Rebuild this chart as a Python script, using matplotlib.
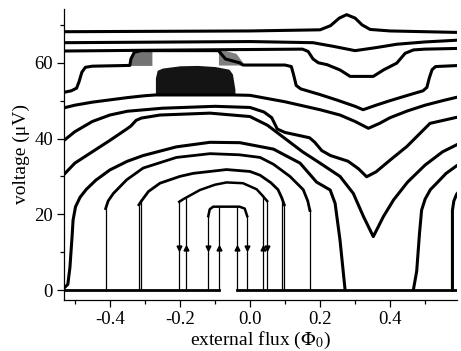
import numpy as np
import matplotlib
matplotlib.use("Agg")
import matplotlib.pyplot as plt

plt.rcParams['font.family'] = ['Liberation Serif', 'DejaVu Serif']
plt.rcParams['mathtext.fontset'] = 'stix'
plt.rcParams['axes.unicode_minus'] = False

# resistive branches (always above zero), top to bottom
a_x = [-0.531, 0.0, 0.2, 0.23, 0.255, 0.276, 0.3, 0.32, 0.343, 0.4, 0.6]
a_y = [68.2, 68.4, 68.7, 69.8, 71.8, 72.7, 71.8, 70.0, 68.8, 68.4, 68.0]

b_x = [-0.531, 0.0, 0.18, 0.24, 0.30, 0.36, 0.42, 0.5, 0.6]
b_y = [65.3, 65.6, 65.3, 64.3, 63.2, 64.0, 64.9, 65.5, 66.0]

c_x = [-0.531, -0.3, 0.0, 0.15, 0.166, 0.18, 0.195, 0.22, 0.257, 0.286, 0.352,
       0.381, 0.419, 0.443, 0.467, 0.5, 0.6]
c_y = [63.1, 63.3, 63.5, 63.6, 63.0, 61.0, 60.0, 59.5, 58.1, 56.4, 56.4,
       58.1, 59.9, 62.5, 63.4, 63.6, 63.8]

d_x = [-0.531, -0.51, -0.495, -0.488, -0.48, -0.47, -0.45, -0.343, -0.34, -0.33,
       -0.31, -0.09, -0.07, -0.03, -0.02, 0.1, 0.118, 0.124, 0.132, 0.145, 0.2,
       0.25, 0.3, 0.323, 0.36, 0.4, 0.45, 0.494, 0.505, 0.512, 0.52, 0.53, 0.6]
d_y = [52.2, 52.6, 53.3, 55.0, 57.5, 58.8, 59.1, 59.3, 61.0, 62.8,
       63.2, 63.2, 61.0, 60.0, 59.4, 59.4, 59.0, 57.0, 54.0, 53.1, 51.6,
       50.1, 48.5, 47.6, 48.8, 50.0, 51.4, 52.6, 53.5, 56.0, 58.2, 59.0, 59.3]

e_x = [-0.531, -0.5, -0.45, -0.4, -0.35, -0.3, -0.27, -0.045, 0.0, 0.1, 0.2,
       0.257, 0.3, 0.338, 0.37, 0.4, 0.45, 0.5, 0.55, 0.6]
e_y = [48.1, 48.8, 49.6, 50.2, 50.8, 51.3, 51.5, 51.5, 51.4, 49.7, 47.6,
       46.2, 44.5, 42.7, 44.0, 45.5, 47.3, 48.8, 50.0, 51.1]

f_x = [-0.531, -0.5, -0.45, -0.4, -0.35, -0.25, -0.1, 0.0, 0.04, 0.062, 0.078,
       0.1, 0.17, 0.185, 0.205, 0.23, 0.28, 0.31, 0.333, 0.36, 0.4, 0.448,
       0.514, 0.6]
f_y = [39.5, 41.8, 44.5, 46.2, 47.2, 48.0, 48.5, 48.2, 47.0, 45.5, 42.5,
       41.6, 40.2, 39.0, 36.8, 35.5, 34.0, 32.0, 29.9, 31.2, 34.3, 37.9,
       44.0, 45.8]

g_x = [-0.531, -0.5, -0.45, -0.4, -0.352, -0.34, -0.325, -0.31, -0.257, -0.114,
       0.0, 0.05, 0.1, 0.15, 0.2, 0.257, 0.295, 0.324, 0.352, 0.381, 0.41,
       0.45, 0.5, 0.55, 0.6]
g_y = [30.5, 33.5, 36.5, 39.5, 42.5, 43.3, 44.8, 45.4, 46.2, 46.7,
       45.8, 43.5, 40.0, 36.5, 33.5, 30.0, 25.5, 19.4, 14.1, 19.4, 23.8,
       28.5, 33.0, 36.5, 38.8]

# switching branches (zero-voltage state in part of the period)
dome5_x = [-0.531, -0.52, -0.514, -0.508, -0.505, -0.498, -0.485, -0.467, -0.44,
           -0.4, -0.35, -0.305, -0.21, -0.114, -0.029, 0.067, 0.143, 0.19,
           0.229, 0.243, 0.257, 0.271]
dome5_y = [0.5, 1.5, 6.0, 14.0, 18.5, 22.0, 24.5, 26.6, 29.0,
           31.7, 34.0, 35.5, 37.8, 39.0, 38.9, 37.2, 33.5, 28.5,
           26.4, 22.9, 13.2, 0.5]

dome5b_x = [0.467, 0.476, 0.484, 0.49, 0.5, 0.515, 0.533, 0.56, 0.59, 0.6]
dome5b_y = [0.3, 5.0, 15.0, 21.1, 24.0, 26.5, 28.2, 30.8, 32.8, 33.3]

dome4_x = [-0.412, -0.412, -0.405, -0.39, -0.352, -0.305, -0.21, -0.114, -0.03,
           0.029, 0.067, 0.114, 0.152, 0.165, 0.171, 0.171]
dome4_y = [0.0, 21.5, 23.5, 25.5, 29.1, 32.2, 35.0, 36.0, 35.7,
           35.0, 33.2, 30.0, 26.5, 23.5, 21.0, 0.0]

dome4b_x = [0.578, 0.578, 0.582, 0.59, 0.6]
dome4b_y = [0.0, 21.0, 23.5, 25.3, 26.4]

dome3_x = [-0.317, -0.317, -0.31, -0.29, -0.257, -0.2, -0.162, -0.067, 0.0,
           0.029, 0.06, 0.08, 0.09, 0.098, 0.098]
dome3_y = [0.0, 22.5, 23.5, 26.0, 28.2, 30.0, 30.8, 31.8, 31.3,
           30.3, 28.3, 26.5, 24.5, 22.5, 0.0]

dome2_x = [-0.202, -0.202, -0.19, -0.143, -0.1, -0.067, -0.02, 0.019, 0.033,
           0.049, 0.049]
dome2_y = [0.0, 23.3, 24.0, 26.4, 27.8, 28.4, 28.2, 26.6, 25.2, 23.5, 0.0]

dome1_x = [-0.119, -0.119, -0.115, -0.105, -0.03, -0.015, -0.008, -0.008]
dome1_y = [0.0, 19.5, 21.3, 22.0, 22.0, 21.5, 19.5, 0.0]

# second vertical of each hysteresis pair: (x, top voltage)
jump_x = [-0.311, 0.09, -0.183, 0.036, -0.088, -0.038]
jump_top = [23.5, 24.5, 24.3, 25.0, 22.0, 22.0]

arrow_down_x = [-0.202, -0.119, -0.008, 0.049]
arrow_up_x = [-0.183, -0.088, -0.038, 0.036]
arrow_y = 11

base1_x = [-0.531, -0.088]
base2_x = [-0.038, 0.6]

# switching noise bands: x, lower, upper
band1_x = [-0.343, -0.335, -0.31, -0.28]
band1_lo = [59.3, 59.3, 59.3, 59.3]
band1_hi = [60.5, 63.2, 63.2, 63.2]
band2_x = [-0.27, -0.265, -0.25, -0.2, -0.15, -0.1, -0.06, -0.05, -0.043]
band2_lo = [51.5, 51.5, 51.5, 51.5, 51.5, 51.5, 51.5, 51.5, 51.5]
band2_hi = [56.0, 58.0, 58.6, 59.2, 59.3, 59.0, 58.3, 57.0, 53.0]
band3_x = [-0.09, -0.07, -0.04, -0.02]
band3_lo = [59.4, 59.4, 59.4, 59.4]
band3_hi = [63.2, 63.2, 62.5, 60.0]

fig = plt.figure(figsize=(4.61, 3.51), dpi=100)
ax = fig.add_axes([0.1388, 0.1453, 0.8525, 0.8291])

k = 'black'
for xs, ys in [(a_x, a_y), (b_x, b_y), (c_x, c_y), (d_x, d_y), (e_x, e_y),
               (f_x, f_y), (g_x, g_y), (dome5_x, dome5_y), (dome5b_x, dome5b_y),
               (dome4b_x, dome4b_y)]:
    ax.plot(xs, ys, color=k, lw=2.2, solid_joinstyle='round')

# domes: thick tops, thin vertical switching lines
for xs, ys, lw in [(dome4_x, dome4_y, 2.0), (dome3_x, dome3_y, 2.0),
                   (dome2_x, dome2_y, 1.8), (dome1_x, dome1_y, 1.8)]:
    ax.plot(xs[1:-1], ys[1:-1], color=k, lw=lw)
    ax.plot(xs[:2], ys[:2], color=k, lw=0.9)
    ax.plot(xs[-2:], ys[-2:], color=k, lw=0.9)

ax.vlines(jump_x, 0, jump_top, color=k, lw=0.9)
ax.plot(arrow_down_x, [arrow_y] * len(arrow_down_x), 'v', color=k, ms=3.5)
ax.plot(arrow_up_x, [arrow_y] * len(arrow_up_x), '^', color=k, ms=3.5)

ax.plot(base1_x, [0, 0], color=k, lw=2.0)
ax.plot(base2_x, [0, 0], color=k, lw=2.0)

ax.fill_between(band1_x, band1_lo, band1_hi, color=k, alpha=0.55, lw=0)
ax.fill_between(band2_x, band2_lo, band2_hi, color=k, alpha=0.92, lw=0)
ax.fill_between(band3_x, band3_lo, band3_hi, color=k, alpha=0.5, lw=0)

ax.set_xlim(-0.531, 0.591)
ax.set_ylim(-2.64, 74.2)
ax.set_xticks([-0.4, -0.2, 0.0, 0.2, 0.4])
ax.set_xticklabels(['-0.4', '-0.2', '0.0', '0.2', '0.4'])
ax.set_xticks([-0.5, -0.3, -0.1, 0.1, 0.3, 0.5], minor=True)
ax.set_yticks([0, 20, 40, 60])
ax.set_yticks([10, 30, 50, 70], minor=True)
ax.tick_params(which='major', direction='out', length=5, width=0.9, labelsize=13.5, pad=3)
ax.tick_params(which='minor', direction='out', length=3, width=0.9)
for s in ['top', 'right']:
    ax.spines[s].set_visible(False)
for s in ['left', 'bottom']:
    ax.spines[s].set_linewidth(0.9)

ax.set_xlabel(r'external flux ($\Phi_0$)', fontsize=14, labelpad=1)
ax.set_ylabel('voltage (μV)', fontsize=14, labelpad=3)

fig.savefig('out.png', dpi=100)
